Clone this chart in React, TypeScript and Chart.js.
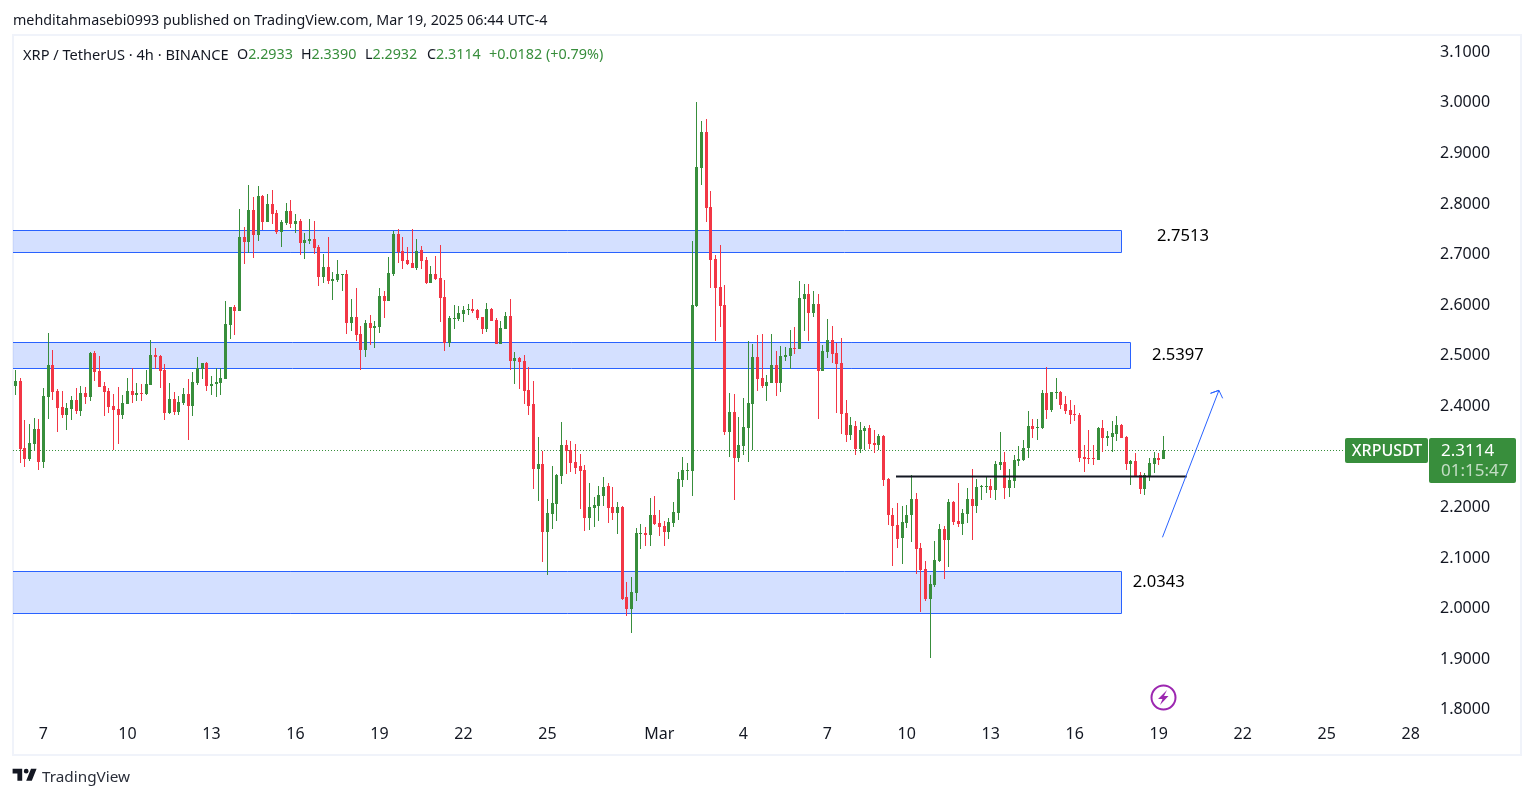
import React, { useEffect, useRef } from "react";
import { Chart, registerables } from "chart.js";

Chart.register(...registerables);

const opens = [
  2.437,2.448,2.314,2.293,2.322,2.352,2.286,2.415,2.478,2.427,
  2.395,2.379,2.391,2.409,2.387,2.423,2.415,2.502,2.466,2.437,
  2.427,2.397,2.391,2.379,2.401,2.427,2.419,2.423,2.421,2.439,
  2.498,2.496,2.468,2.383,2.411,2.385,2.403,2.421,2.397,2.444,
  2.470,2.482,2.437,2.441,2.444,2.450,2.557,2.593,2.585,2.731,
  2.721,2.786,2.735,2.812,2.761,2.796,2.779,2.741,2.759,2.783,
  2.757,2.763,2.719,2.723,2.727,2.711,2.652,2.672,2.644,2.646,
  2.656,2.658,2.561,2.573,2.539,2.508,2.561,2.551,2.553,2.615,
  2.605,2.658,2.737,2.704,2.686,2.680,2.670,2.707,2.686,2.640,
  2.658,2.650,2.613,2.522,2.569,2.569,2.579,2.587,2.589,2.587,
  2.573,2.549,2.589,2.567,2.520,2.549,2.575,2.486,2.492,2.486,
  2.429,2.401,2.274,2.282,2.148,2.185,2.203,2.259,2.320,2.310,
  2.286,2.278,2.272,2.176,2.195,2.199,2.219,2.239,2.197,2.187,
  2.197,2.019,1.996,2.027,2.144,2.146,2.142,2.183,2.166,2.160,
  2.148,2.166,2.187,2.251,2.270,2.270,2.595,2.868,2.939,2.792,
  2.688,2.632,2.597,2.346,2.385,2.294,2.318,2.355,2.401,2.494,
  2.452,2.437,2.444,2.478,2.444,2.494,2.496,2.512,2.510,2.609,
  2.620,2.581,2.599,2.466,2.504,2.529,2.502,2.482,2.383,2.340,
  2.359,2.312,2.348,2.354,2.324,2.320,2.338,2.253,2.183,2.162,
  2.136,2.166,2.182,2.213,2.116,2.075,2.017,2.043,2.091,2.154,
  2.132,2.207,2.170,2.164,2.185,2.213,2.199,2.237,2.237,2.239,
  2.231,2.280,2.286,2.235,2.249,2.288,2.290,2.314,2.358,2.354,
  2.354,2.423,2.389,2.423,2.425,2.401,2.389,2.381,2.379,2.296,
  2.294,2.294,2.290,2.354,2.334,2.336,2.342,2.360,2.336,2.282,
  2.288,2.261,2.233,2.259,2.282,2.294,2.2933,
];

const highs = [
  2.468,2.452,2.369,2.363,2.373,2.371,2.433,2.541,2.508,2.431,
  2.427,2.403,2.417,2.433,2.437,2.435,2.504,2.506,2.496,2.446,
  2.433,2.421,2.435,2.419,2.452,2.472,2.444,2.441,2.468,2.528,
  2.512,2.498,2.480,2.444,2.425,2.417,2.433,2.450,2.464,2.494,
  2.482,2.484,2.456,2.472,2.472,2.605,2.593,2.597,2.788,2.751,
  2.834,2.810,2.832,2.814,2.816,2.824,2.785,2.765,2.798,2.804,
  2.777,2.767,2.739,2.767,2.763,2.715,2.699,2.731,2.662,2.686,
  2.658,2.666,2.609,2.630,2.555,2.567,2.577,2.565,2.630,2.624,
  2.692,2.743,2.747,2.731,2.711,2.747,2.727,2.713,2.692,2.674,
  2.694,2.715,2.646,2.575,2.597,2.595,2.595,2.599,2.609,2.589,
  2.573,2.601,2.591,2.572,2.565,2.583,2.609,2.504,2.494,2.498,
  2.474,2.448,2.336,2.308,2.213,2.278,2.263,2.365,2.330,2.328,
  2.322,2.302,2.280,2.245,2.217,2.239,2.257,2.245,2.237,2.207,
  2.199,2.049,2.059,2.156,2.164,2.158,2.215,2.219,2.191,2.170,
  2.176,2.207,2.267,2.296,2.284,2.723,2.998,2.962,2.966,2.822,
  2.696,2.715,2.636,2.423,2.421,2.375,2.413,2.526,2.520,2.537,
  2.539,2.458,2.539,2.506,2.516,2.514,2.547,2.553,2.644,2.638,
  2.638,2.624,2.620,2.518,2.569,2.555,2.522,2.533,2.409,2.375,
  2.367,2.365,2.359,2.361,2.350,2.342,2.340,2.255,2.195,2.205,
  2.199,2.201,2.261,2.225,2.126,2.091,2.063,2.130,2.164,2.160,
  2.213,2.209,2.245,2.193,2.235,2.274,2.253,2.241,2.257,2.253,
  2.288,2.346,2.306,2.274,2.300,2.318,2.330,2.387,2.371,2.371,
  2.429,2.474,2.425,2.452,2.427,2.417,2.409,2.399,2.383,2.320,
  2.350,2.320,2.356,2.369,2.348,2.367,2.377,2.362,2.338,2.290,
  2.304,2.267,2.265,2.294,2.306,2.304,2.3390,
];

const lows = [
  2.419,2.285,2.277,2.289,2.308,2.271,2.275,2.371,2.409,2.346,
  2.373,2.350,2.369,2.381,2.377,2.401,2.407,2.448,2.435,2.377,
  2.383,2.310,2.322,2.371,2.401,2.403,2.407,2.407,2.419,2.439,
  2.470,2.433,2.369,2.381,2.379,2.379,2.399,2.330,2.377,2.439,
  2.450,2.427,2.419,2.415,2.419,2.450,2.530,2.537,2.585,2.678,
  2.700,2.690,2.723,2.745,2.761,2.757,2.737,2.711,2.755,2.749,
  2.739,2.696,2.688,2.717,2.699,2.634,2.640,2.638,2.607,2.642,
  2.624,2.539,2.545,2.526,2.468,2.494,2.518,2.512,2.541,2.571,
  2.605,2.654,2.680,2.668,2.676,2.670,2.666,2.668,2.638,2.640,
  2.646,2.563,2.506,2.514,2.549,2.565,2.563,2.577,2.581,2.567,
  2.539,2.543,2.565,2.520,2.520,2.549,2.468,2.441,2.431,2.401,
  2.379,2.233,2.209,2.089,2.063,2.154,2.170,2.243,2.263,2.267,
  2.263,2.193,2.150,2.152,2.158,2.170,2.199,2.166,2.172,2.144,
  2.015,1.982,1.948,2.012,2.114,2.120,2.120,2.162,2.140,2.120,
  2.134,2.158,2.172,2.237,2.251,2.219,2.593,2.834,2.761,2.630,
  2.526,2.553,2.340,2.296,2.211,2.286,2.300,2.286,2.310,2.427,
  2.433,2.407,2.444,2.417,2.425,2.486,2.470,2.500,2.510,2.545,
  2.526,2.573,2.371,2.466,2.492,2.482,2.383,2.342,2.326,2.330,
  2.300,2.304,2.310,2.312,2.304,2.310,2.239,2.162,2.081,2.116,
  2.085,2.156,2.128,2.065,1.990,2.012,1.899,2.039,2.089,2.055,
  2.079,2.162,2.158,2.142,2.166,2.132,2.187,2.211,2.225,2.215,
  2.211,2.272,2.213,2.217,2.235,2.278,2.288,2.294,2.334,2.330,
  2.352,2.371,2.385,2.411,2.391,2.381,2.362,2.367,2.286,2.267,
  2.282,2.280,2.290,2.306,2.318,2.306,2.328,2.334,2.272,2.241,
  2.259,2.223,2.221,2.249,2.265,2.280,2.2932,
];

const closes = [
  2.448,2.313,2.293,2.324,2.352,2.286,2.417,2.478,2.425,2.393,
  2.379,2.393,2.409,2.387,2.423,2.415,2.502,2.464,2.435,2.425,
  2.395,2.389,2.379,2.403,2.427,2.419,2.423,2.421,2.441,2.498,
  2.494,2.466,2.383,2.411,2.385,2.405,2.421,2.397,2.446,2.472,
  2.482,2.437,2.442,2.446,2.452,2.559,2.593,2.585,2.731,2.721,
  2.786,2.735,2.812,2.761,2.796,2.777,2.741,2.761,2.783,2.757,
  2.763,2.719,2.725,2.727,2.709,2.652,2.672,2.644,2.648,2.658,
  2.658,2.561,2.573,2.537,2.508,2.561,2.551,2.555,2.615,2.605,
  2.660,2.737,2.702,2.684,2.678,2.670,2.705,2.684,2.640,2.658,
  2.648,2.611,2.522,2.571,2.571,2.581,2.587,2.589,2.585,2.571,
  2.549,2.589,2.565,2.520,2.551,2.575,2.486,2.492,2.484,2.427,
  2.397,2.274,2.282,2.148,2.187,2.205,2.261,2.320,2.308,2.284,
  2.276,2.270,2.176,2.197,2.201,2.221,2.237,2.195,2.187,2.197,
  2.017,1.996,2.029,2.146,2.146,2.142,2.183,2.164,2.158,2.148,
  2.168,2.189,2.253,2.272,2.272,2.597,2.870,2.939,2.790,2.686,
  2.630,2.595,2.346,2.385,2.294,2.320,2.357,2.403,2.494,2.450,
  2.437,2.446,2.478,2.444,2.496,2.498,2.512,2.510,2.611,2.620,
  2.581,2.599,2.466,2.506,2.529,2.500,2.480,2.381,2.340,2.361,
  2.312,2.350,2.354,2.322,2.320,2.338,2.251,2.182,2.160,2.134,
  2.168,2.183,2.213,2.114,2.073,2.017,2.045,2.093,2.154,2.132,
  2.207,2.168,2.164,2.187,2.213,2.199,2.237,2.239,2.239,2.231,
  2.282,2.286,2.235,2.251,2.290,2.292,2.314,2.358,2.352,2.356,
  2.423,2.389,2.425,2.425,2.399,2.387,2.379,2.379,2.294,2.292,
  2.292,2.292,2.354,2.334,2.338,2.344,2.360,2.334,2.282,2.288,
  2.259,2.233,2.261,2.284,2.294,2.290,2.3114,
];

const dayTickIndex = [6, 24, 42, 60, 78, 96, 114, 138, 156, 174, 191, 209, 227, 245, 263, 281, 299];
const dayTickLabels = ["7", "10", "13", "16", "19", "22", "25", "Mar", "4", "7", "10", "13", "16", "19", "22", "25", "28"];
const priceTicks = [1.8, 1.9, 2.0, 2.1, 2.2, 2.3, 2.4, 2.5, 2.6, 2.7, 2.8, 2.9, 3.0, 3.1];

const bandTops = [2.7456, 2.5241, 2.0714];
const bandBottoms = [2.7021, 2.4727, 1.9883];
const bandEnds = [236.9, 238.8, 236.9];
const bandLabels = ["2.7513", "2.5397", "2.0343"];
const bandLabelX = [250.2, 249.1, 245.0];
const bandLabelY = [2.733, 2.498, 2.049];

const supportLevel = 2.2582;
const supportFrom = 188.7;
const supportTo = 251;

const arrowX = [245.8, 257.9, 256.1, 257.9, 258.7];
const arrowY = [2.138, 2.4286, 2.4227, 2.4286, 2.4128];

const lastPriceLineEnd = 285;

const GREEN = "#388e3c";
const RED = "#f23645";
const BLUE = "#2962ff";
const INK = "#131722";
const FONT = '"Noto Sans", sans-serif';

const X_MIN = -0.514;
const X_MAX = 302.7;
const Y_MIN = 1.7768;
const Y_MAX = 3.1311;

const candleColors = closes.map((c, i) => (c >= opens[i] ? GREEN : RED));

const snapPlugin = {
  id: "snapCandles",
  afterDatasetsUpdate(chart: any) {
    chart.data.datasets.forEach((ds: any, di: number) => {
      if (ds.type !== "bar") return;
      chart.getDatasetMeta(di).data.forEach((el: any) => {
        el.x = Math.floor(el.x) + 0.5;
        const a = Math.round(el.y);
        let b = Math.round(el.base);
        if (a === b) b = a + 1;
        el.y = a;
        el.base = b;
      });
    });
  },
};

const drawingsPlugin = {
  id: "drawings",
  beforeDatasetsDraw(chart: any) {
    const { ctx, scales } = chart;
    const { x, y } = scales;
    ctx.save();
    bandTops.forEach((top, i) => {
      const l = x.getPixelForValue(X_MIN);
      const r = Math.round(x.getPixelForValue(bandEnds[i]));
      const t = Math.round(y.getPixelForValue(top));
      const b = Math.round(y.getPixelForValue(bandBottoms[i]));
      ctx.fillStyle = "rgba(41,98,255,0.2)";
      ctx.fillRect(l, t, r - l, b - t);
      ctx.strokeStyle = BLUE;
      ctx.lineWidth = 1;
      ctx.beginPath();
      ctx.moveTo(l, t + 0.5);
      ctx.lineTo(r + 0.5, t + 0.5);
      ctx.lineTo(r + 0.5, b + 0.5);
      ctx.lineTo(l, b + 0.5);
      ctx.stroke();
    });
    const dotY = Math.round(y.getPixelForValue(closes[closes.length - 1])) + 0.5;
    ctx.strokeStyle = GREEN;
    ctx.lineWidth = 1;
    ctx.setLineDash([1, 2]);
    ctx.beginPath();
    ctx.moveTo(x.getPixelForValue(X_MIN), dotY);
    ctx.lineTo(x.getPixelForValue(lastPriceLineEnd), dotY);
    ctx.stroke();
    ctx.restore();
  },
  afterDatasetsDraw(chart: any) {
    const { ctx, scales } = chart;
    const { x, y } = scales;
    ctx.save();
    ctx.textAlign = "center";
    ctx.textBaseline = "middle";
    ctx.fillStyle = "#000000";
    ctx.font = `16.6px ${FONT}`;
    bandLabels.forEach((t, i) => {
      ctx.fillText(t, x.getPixelForValue(bandLabelX[i]), y.getPixelForValue(bandLabelY[i]));
    });
    const last = closes[closes.length - 1];
    const py = Math.round(y.getPixelForValue(last));
    ctx.fillStyle = GREEN;
    ctx.beginPath();
    ctx.roundRect(1345, py - 12, 83, 25, 2);
    ctx.fill();
    ctx.beginPath();
    ctx.roundRect(1429, py - 12, 87, 45, 2);
    ctx.fill();
    ctx.fillStyle = "#ffffff";
    ctx.font = `500 16px ${FONT}`;
    ctx.fillText("XRPUSDT", 1387, py + 1);
    ctx.textAlign = "left";
    ctx.font = `17px ${FONT}`;
    ctx.fillText(last.toFixed(4), 1441, py + 1);
    ctx.fillStyle = "rgba(255,255,255,0.7)";
    ctx.fillText("01:15:47", 1441, py + 21);
    ctx.restore();
  },
};

export default function App() {
  const ref = useRef<HTMLCanvasElement>(null);

  useEffect(() => {
    const chart = new Chart(ref.current as HTMLCanvasElement, {
      type: "bar",
      data: {
        datasets: [
          {
            type: "line",
            label: "Arrow",
            data: arrowX.map((v, i) => ({ x: v, y: arrowY[i] })),
            borderColor: BLUE,
            borderWidth: 1,
            pointRadius: 0,
            order: 0,
          },
          {
            type: "line",
            label: "Support",
            data: [
              { x: supportFrom, y: supportLevel },
              { x: supportTo, y: supportLevel },
            ],
            borderColor: INK,
            borderWidth: 2,
            pointRadius: 0,
            order: 1,
          },
          {
            type: "bar",
            label: "Body",
            data: closes.map((c, i) => ({ x: i, y: [opens[i], c] })),
            backgroundColor: candleColors,
            barThickness: 3,
            grouped: false,
            inflateAmount: 0,
            order: 2,
          },
          {
            type: "bar",
            label: "Wick",
            data: highs.map((h, i) => ({ x: i, y: [lows[i], h] })),
            backgroundColor: candleColors,
            barThickness: 1,
            grouped: false,
            inflateAmount: 0,
            order: 3,
          },
        ],
      } as any,
      options: {
        animation: false,
        responsive: false,
        maintainAspectRatio: false,
        layout: { padding: { left: 13, top: 35, right: 0, bottom: 0 } },
        plugins: { legend: { display: false }, tooltip: { enabled: false }, title: { display: false } },
        scales: {
          x: {
            type: "linear",
            position: "bottom",
            offset: false,
            min: X_MIN,
            max: X_MAX,
            grid: { display: false, drawTicks: false, offset: false },
            border: { display: false },
            afterBuildTicks: (s: any) => {
              s.ticks = dayTickIndex.map((v) => ({ value: v }));
            },
            afterFit: (s: any) => {
              s.height = 78;
              s.paddingLeft = 0;
              s.paddingRight = 0;
            },
            ticks: {
              autoSkip: false,
              maxRotation: 0,
              minRotation: 0,
              padding: 5,
              color: INK,
              font: { family: FONT, size: 16 },
              callback: (v: any) => dayTickLabels[dayTickIndex.indexOf(Number(v))] ?? "",
            },
          },
          y: {
            type: "linear",
            position: "right",
            min: Y_MIN,
            max: Y_MAX,
            grid: { display: false, drawTicks: false },
            border: { display: false },
            afterBuildTicks: (s: any) => {
              s.ticks = priceTicks.map((v) => ({ value: v }));
            },
            afterFit: (s: any) => {
              s.width = 105;
              s.paddingTop = 0;
              s.paddingBottom = 0;
            },
            ticks: {
              autoSkip: false,
              padding: 12,
              labelOffset: 1.5,
              color: INK,
              font: { family: FONT, size: 16 },
              callback: (v: any) => Number(v).toFixed(4),
            },
          },
        },
      } as any,
      plugins: [snapPlugin, drawingsPlugin] as any,
    });
    return () => chart.destroy();
  }, []);

  const abs = (left: number, top: number, color: string, size = 14.3): React.CSSProperties => ({
    position: "absolute",
    left,
    top,
    color,
    fontFamily: FONT,
    fontSize: size,
    lineHeight: "18px",
    whiteSpace: "nowrap",
  });

  return (
    <div style={{ position: "absolute", left: 0, top: 0, width: 1533, height: 798, background: "#fff", overflow: "hidden" }}>
      <div style={{ position: "absolute", left: 12, top: 34, width: 1506, height: 718, border: "2px solid #f0f3fa" }} />
      <canvas ref={ref} width={1533} height={798} style={{ position: "absolute", left: 0, top: 0 }} />
      <div style={abs(13, 11, INK)}>mehditahmasebi0993 published on TradingView.com, Mar 19, 2025 06:44 UTC-4</div>
      <div style={abs(23, 45, INK, 14.6)}>XRP / TetherUS · 4h · BINANCE</div>
      <div style={abs(237, 45, INK)}>O<span style={{ color: GREEN }}>2.2933</span></div>
      <div style={abs(301, 45, INK)}>H<span style={{ color: GREEN }}>2.3390</span></div>
      <div style={abs(365, 45, INK)}>L<span style={{ color: GREEN }}>2.2932</span></div>
      <div style={abs(427, 45, INK)}>C<span style={{ color: GREEN }}>2.3114</span></div>
      <div style={abs(489, 45, GREEN, 14.4)}>+0.0182 (+0.79%)</div>
      <svg style={{ position: "absolute", left: 11.4, top: 764.2 }} width="28.8" height="22.4" viewBox="0 0 36 28">
        <path fill={INK} d="M14 6H2v6h6v9h6V6Zm12 15h-7l6-15h7l-6 15Zm-7-9a3 3 0 1 0 0-6 3 3 0 0 0 0 6Z" />
      </svg>
      <div style={{ ...abs(42, 767, "#2a2e39", 15.3) }}>TradingView</div>
      <svg style={{ position: "absolute", left: 1150, top: 684 }} width="27" height="27" viewBox="0 0 27 27">
        <circle cx="13.5" cy="13.5" r="12" fill="none" stroke="#9c27b0" strokeWidth="2" />
        <path fill="#9c27b0" d="M17 6 8 15h4.5l-2.5 6 8.5-9h-4.5Z" />
      </svg>
    </div>
  );
}
